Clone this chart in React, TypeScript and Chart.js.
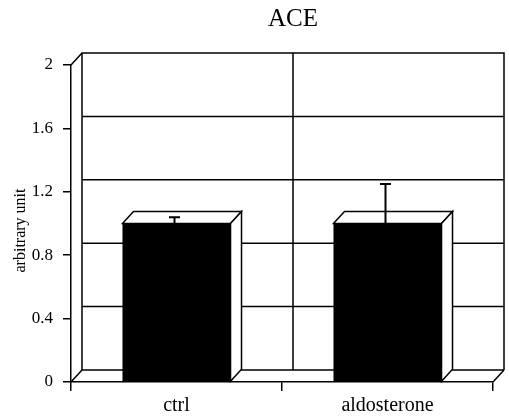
import React, { useEffect, useRef } from "react";
import { Chart, registerables } from "chart.js";

Chart.register(...registerables);

const categories = ["ctrl", "aldosterone"];
const means = [1.0, 1.0];
const errors = [0.04, 0.25];
const yTicks = [0, 0.4, 0.8, 1.2, 1.6, 2];
const yTickLabels = ["0", "0.4", "0.8", "1.2", "1.6", "2"];
const chartTitle = "ACE";
const yAxisTitle = "arbitrary unit";

const DEPTH_X = 11;
const DEPTH_Y = 12;
const FONT = "'Liberation Serif', 'Times New Roman', serif";
const W = 509;
const H = 418;

export default function App() {
  const ref = useRef<HTMLCanvasElement>(null);

  useEffect(() => {
    const canvas = ref.current!;
    const threeD = {
      id: "threeD",
      beforeDatasetsDraw(chart: any) {
        const { ctx, chartArea: a, scales } = chart;
        const x = scales.x;
        const y = scales.y;
        const bl = a.left + DEPTH_X;
        const br = a.right + DEPTH_X;
        const bt = a.top - DEPTH_Y;
        const bb = a.bottom - DEPTH_Y;
        ctx.save();
        ctx.strokeStyle = "#000";
        ctx.lineWidth = 1.5;
        ctx.beginPath();
        ctx.moveTo(bl, bb);
        ctx.lineTo(bl, bt);
        ctx.lineTo(br, bt);
        ctx.lineTo(br, bb);
        ctx.moveTo(a.left, a.top);
        ctx.lineTo(bl, bt);
        ctx.moveTo(a.left, a.bottom);
        ctx.lineTo(bl, bb);
        ctx.moveTo(a.right, a.bottom);
        ctx.lineTo(br, bb);
        yTicks.forEach((v) => {
          const py = y.getPixelForValue(v) - DEPTH_Y;
          ctx.moveTo(bl, py);
          ctx.lineTo(br, py);
        });
        for (let i = 1; i < categories.length; i++) {
          const px = x.getPixelForValue(i - 0.5) + DEPTH_X;
          ctx.moveTo(px, bt);
          ctx.lineTo(px, bb);
        }
        ctx.stroke();
        ctx.restore();
      },
      afterDatasetsDraw(chart: any) {
        const { ctx, scales } = chart;
        const y = scales.y;
        const meta = chart.getDatasetMeta(0);
        ctx.save();
        ctx.strokeStyle = "#000";
        ctx.lineWidth = 1.5;
        ctx.lineJoin = "miter";
        meta.data.forEach((bar: any, i: number) => {
          const p = bar.getProps(["x", "y", "base", "width"], true);
          const x0 = p.x - p.width / 2;
          const x1 = p.x + p.width / 2;
          const top = p.y;
          const base = p.base;
          ctx.fillStyle = "#fff";
          ctx.beginPath();
          ctx.moveTo(x0, top);
          ctx.lineTo(x0 + DEPTH_X, top - DEPTH_Y);
          ctx.lineTo(x1 + DEPTH_X, top - DEPTH_Y);
          ctx.lineTo(x1, top);
          ctx.closePath();
          ctx.fill();
          ctx.stroke();
          ctx.beginPath();
          ctx.moveTo(x1, top);
          ctx.lineTo(x1 + DEPTH_X, top - DEPTH_Y);
          ctx.lineTo(x1 + DEPTH_X, base - DEPTH_Y);
          ctx.lineTo(x1, base);
          ctx.closePath();
          ctx.fill();
          ctx.stroke();
          // error bar
          const ex = p.x - 2;
          const ye = y.getPixelForValue(means[i] + errors[i]);
          ctx.lineWidth = 2;
          ctx.beginPath();
          ctx.moveTo(ex, top);
          ctx.lineTo(ex, ye);
          ctx.moveTo(ex - 5.5, ye);
          ctx.lineTo(ex + 5.5, ye);
          ctx.stroke();
          ctx.lineWidth = 1.5;
        });
        ctx.restore();
      },
      afterDraw(chart: any) {
        const { ctx, chartArea: a } = chart;
        ctx.save();
        ctx.fillStyle = "#000";
        ctx.font = `25px ${FONT}`;
        ctx.textAlign = "center";
        ctx.textBaseline = "alphabetic";
        ctx.fillText(chartTitle, (a.left + a.right) / 2 + DEPTH_X, 26);
        ctx.font = `16px ${FONT}`;
        ctx.textBaseline = "middle";
        ctx.translate(21, (a.top + a.bottom) / 2 + 7);
        ctx.rotate(-Math.PI / 2);
        ctx.fillText(yAxisTitle, 0, 0);
        ctx.restore();
      },
    };

    const chart = new Chart(canvas, {
      type: "bar",
      data: {
        labels: categories,
        datasets: [
          {
            data: means,
            backgroundColor: "#000",
            borderWidth: 0,
            categoryPercentage: 1,
            barPercentage: 0.512,
          },
        ],
      },
      options: {
        responsive: false,
        animation: false,
        devicePixelRatio: 1,
        layout: { padding: { top: 65, right: 16, left: 0, bottom: 0 } },
        plugins: {
          legend: { display: false },
          tooltip: { enabled: false },
          title: { display: false },
        },
        scales: {
          x: {
            afterFit: (s: any) => {
              s.height = 36;
            },
            grid: {
              offset: true,
              drawOnChartArea: false,
              drawTicks: true,
              tickLength: 9,
              color: "#000",
              lineWidth: 1.5,
            },
            border: { display: true, color: "#000", width: 1.5 },
            ticks: {
              color: "#000",
              font: { family: FONT, size: 20 },
              padding: 3,
              maxRotation: 0,
            },
          },
          y: {
            min: 0,
            max: 2,
            afterFit: (s: any) => {
              s.width = 71;
            },
            afterBuildTicks: (s: any) => {
              s.ticks = yTicks.map((v) => ({ value: v }));
            },
            grid: {
              drawOnChartArea: false,
              drawTicks: true,
              tickLength: 8,
              color: "#000",
              lineWidth: 1.5,
            },
            border: { display: true, color: "#000", width: 1.5 },
            ticks: {
              color: "#000",
              font: { family: FONT, size: 17 },
              padding: 10,
              callback: (_v: any, i: number) => yTickLabels[i],
            },
          },
        },
      },
      plugins: [threeD],
    });
    return () => chart.destroy();
  }, []);

  return (
    <div style={{ position: "absolute", left: 0, top: 0, width: W, height: H, background: "#fff" }}>
      <canvas ref={ref} width={W} height={H} style={{ display: "block" }} />
    </div>
  );
}
